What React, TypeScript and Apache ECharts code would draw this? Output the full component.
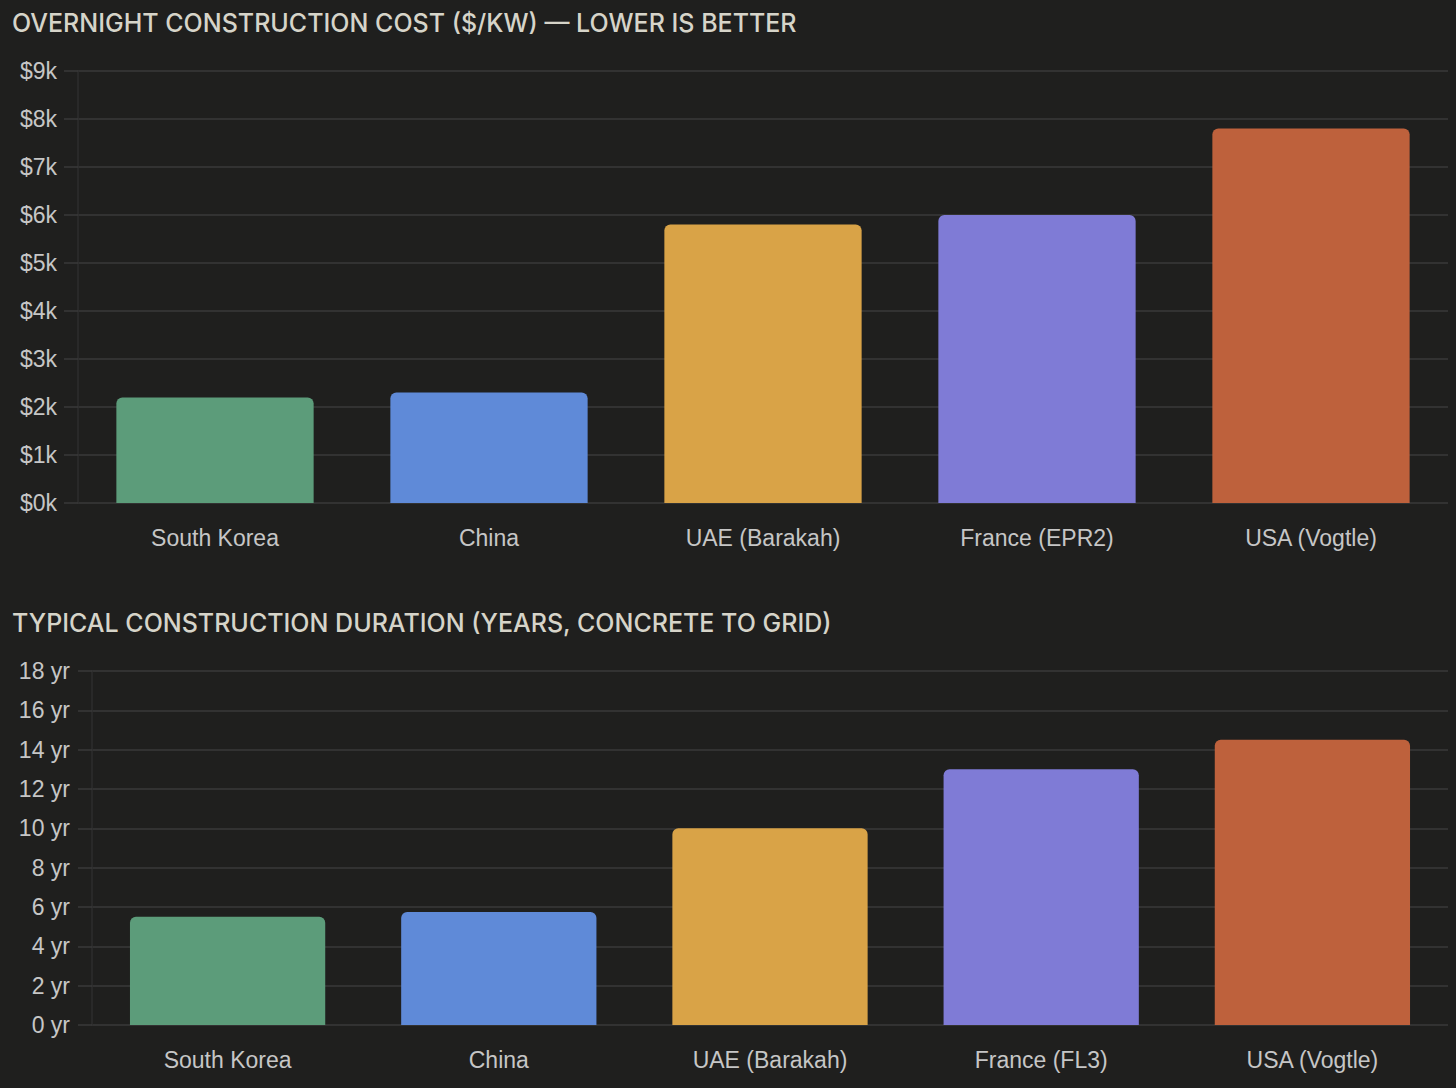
import React, { useEffect, useRef } from 'react';
import * as echarts from 'echarts';

const costCategories = ['South Korea', 'China', 'UAE (Barakah)', 'France (EPR2)', 'USA (Vogtle)'];
const costValues = [2200, 2300, 5800, 6000, 7800];

const durationCategories = ['South Korea', 'China', 'UAE (Barakah)', 'France (FL3)', 'USA (Vogtle)'];
const durationValues = [5.5, 5.75, 10, 13, 14.5];

const barColors = ['#5c9c7a', '#5f8ad8', '#d9a347', '#7f7bd6', '#be613c'];

const BG = '#1f1f1e';
const GRID_LINE = '#3a3a3a';
const AXIS_LINE = '#2e2e2e';
const LABEL = '#c6c6c6';
const TITLE = '#d6d4c9';

export default function App() {
  const elRef = useRef<HTMLDivElement | null>(null);

  useEffect(() => {
    document.body.style.margin = '0';
    document.body.style.background = BG;
    if (!elRef.current) return;
    const chart = echarts.init(elRef.current, null, { renderer: 'svg' });

    const titleStyle = {
      color: TITLE,
      fontSize: 25,
      fontWeight: 500 as const,
      fontFamily: 'Inter, sans-serif',
    };
    const axisLabelStyle = {
      color: LABEL,
      fontSize: 23,
      fontFamily: '"Liberation Sans", Arial, sans-serif',
    };

    const yCommon = {
      type: 'value' as const,
      axisLine: { show: true, lineStyle: { color: AXIS_LINE, width: 1.5 } },
      axisTick: { show: true, length: 14, lineStyle: { color: GRID_LINE, width: 1.5 } },
      splitLine: { show: true, lineStyle: { color: GRID_LINE, width: 1.5 } },
    };
    const xCommon = {
      type: 'category' as const,
      axisLine: { show: false },
      axisTick: { show: false },
      splitLine: { show: false },
    };

    chart.setOption({
      animation: false,
      backgroundColor: BG,
      title: [
        { text: 'OVERNIGHT CONSTRUCTION COST ($/KW) — LOWER IS BETTER', left: 7, top: 5, textStyle: titleStyle },
        { text: 'TYPICAL CONSTRUCTION DURATION (YEARS, CONCRETE TO GRID)', left: 7, top: 605, textStyle: titleStyle },
      ],
      grid: [
        { left: 78, right: 8, top: 71, height: 432 },
        { left: 92, right: 8, top: 671, height: 354 },
      ],
      xAxis: [
        {
          ...xCommon,
          gridIndex: 0,
          data: costCategories,
          axisLabel: { ...axisLabelStyle, margin: 23 },
        },
        {
          ...xCommon,
          gridIndex: 1,
          data: durationCategories,
          axisLabel: { ...axisLabelStyle, margin: 23 },
        },
      ],
      yAxis: [
        {
          ...yCommon,
          gridIndex: 0,
          min: 0,
          max: 9000,
          interval: 1000,
          axisLabel: { ...axisLabelStyle, margin: 21, formatter: (v: number) => `$${v / 1000}k` },
        },
        {
          ...yCommon,
          gridIndex: 1,
          min: 0,
          max: 18,
          interval: 2,
          axisLabel: { ...axisLabelStyle, margin: 22, formatter: (v: number) => `${v} yr` },
        },
      ],
      series: [
        {
          type: 'bar',
          xAxisIndex: 0,
          yAxisIndex: 0,
          barWidth: '72%',
          data: costValues.map((v, i) => ({
            value: v,
            itemStyle: { color: barColors[i], borderRadius: [6, 6, 0, 0] },
          })),
        },
        {
          type: 'bar',
          xAxisIndex: 1,
          yAxisIndex: 1,
          barWidth: '72%',
          data: durationValues.map((v, i) => ({
            value: v,
            itemStyle: { color: barColors[i], borderRadius: [6, 6, 0, 0] },
          })),
        },
      ],
    });

    const onResize = () => chart.resize();
    window.addEventListener('resize', onResize);
    return () => {
      window.removeEventListener('resize', onResize);
      chart.dispose();
    };
  }, []);

  return <div ref={elRef} style={{ width: 1456, height: 1088, background: BG }} />;
}
